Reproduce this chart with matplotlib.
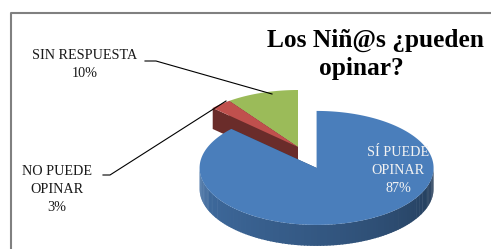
import numpy as np
import matplotlib.pyplot as plt
from matplotlib.patches import Polygon
from matplotlib.colors import to_rgb

# datos
etiquetas = ['SÍ PUEDE\nOPINAR', 'NO PUEDE\nOPINAR', 'SIN RESPUESTA']
valores = [87, 3, 10]
colores = ['#4a7ebb', '#c0504d', '#9bbb59']
separar = [0.4, 0.0, 0.0]   # solo la porcion azul va separada
titulo = ['Los Niñ@s ¿pueden', 'opinar?']

plt.rcParams['font.family'] = 'serif'
plt.rcParams['font.serif'] = ['Liberation Serif', 'DejaVu Serif']

fig = plt.figure(figsize=(4.91, 2.49), dpi=100)
ax = fig.add_axes([0, 0, 1, 1])
ax.set_xlim(0, 491)
ax.set_ylim(249, 0)
ax.axis('off')

# marco del grafico
ax.plot([11, 11, 491], [249, 13, 13], color='#808080', lw=1.5, solid_capstyle='butt')

# pastel 3D (en pixeles)
cx, cy = 298, 147
a, b, prof = 117, 57, 21


def punto(x0, y0, th):
    t = np.radians(th)
    return x0 + a * np.sin(t), y0 - b * np.cos(t)


def oscuro(c, f):
    r, g, bb = to_rgb(c)
    return (r * f, g * f, bb * f)


total = float(sum(valores))
angs = np.concatenate([[0], np.cumsum(valores) / total * 360])
porciones = []
for i in range(len(valores)):
    t0, t1 = angs[i], angs[i + 1]
    mid = np.radians((t0 + t1) / 2)
    x0 = cx + separar[i] * a * np.sin(mid)
    y0 = cy - separar[i] * b * np.cos(mid)
    porciones.append((np.cos(mid), i, t0, t1, x0, y0))

# de atras hacia adelante
for _, i, t0, t1, x0, y0 in sorted(porciones, reverse=True):
    col = colores[i]
    # caras radiales
    for th in (t0, t1):
        px, py = punto(x0, y0, th)
        ax.add_patch(Polygon([(x0, y0), (px, py), (px, py + prof), (x0, y0 + prof)],
                             closed=True, fc=oscuro(col, 0.55), ec='none'))
    # pared frontal
    ths = np.linspace(t0, t1, 200)
    for k in range(len(ths) - 1):
        m = (ths[k] + ths[k + 1]) / 2
        if 90 <= m <= 270:
            f = 0.42 + 0.45 * ((m - 90) / 180) ** 0.7
            p1 = punto(x0, y0, ths[k])
            p2 = punto(x0, y0, ths[k + 1] + 0.5)
            ax.add_patch(Polygon([p1, p2, (p2[0], p2[1] + prof), (p1[0], p1[1] + prof)],
                                 closed=True, fc=oscuro(col, f), ec='none'))
    # cara superior
    arco = [punto(x0, y0, th) for th in ths]
    ax.add_patch(Polygon([(x0, y0)] + arco, closed=True, fc=col, ec='none'))

# etiquetas
txt = dict(fontsize=10.2, ha='center', va='center', linespacing=1.5)
ax.text(398, 170, f'{etiquetas[0]}\n{valores[0]}%', color='#f2f2f2', **txt)
ax.text(57, 189, f'{etiquetas[1]}\n{valores[1]}%', color='#1a1a1a', **txt)
ax.text(85, 64, f'{etiquetas[2]}\n{valores[2]}%', color='#1a1a1a', **txt)

# lineas guia
ax.plot([145, 156, 272], [61, 61, 94], color='black', lw=0.8)
ax.plot([103, 110, 226], [175, 175, 101], color='black', lw=0.8)

# titulo
ax.text(375, 40, titulo[0], fontsize=18.3, fontweight='bold', ha='center', va='center')
ax.text(361, 68, titulo[1], fontsize=18.3, fontweight='bold', ha='center', va='center')

fig.savefig('out.png', dpi=100)
